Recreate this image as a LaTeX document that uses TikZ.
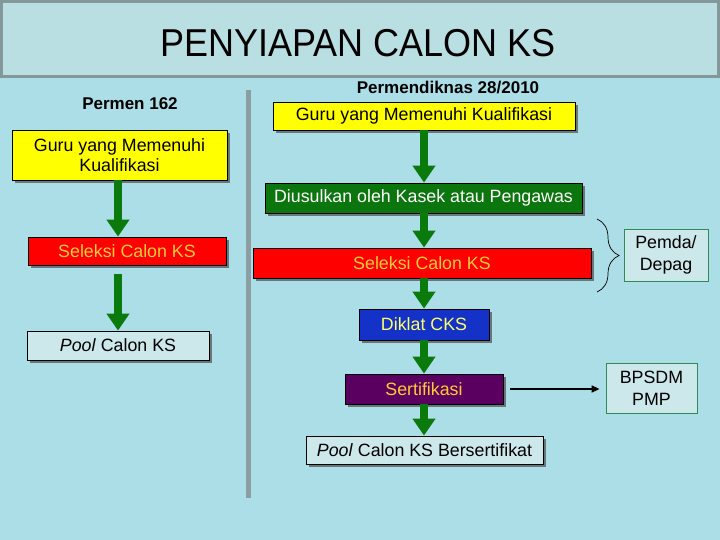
\documentclass[tikz,border=0pt]{standalone}
\usepackage{fontspec}
\setmainfont{Liberation Sans}
\usetikzlibrary{arrows.meta,shadows,decorations.pathreplacing}
\definecolor{bgc}{RGB}{172,222,232}
\definecolor{titlec}{RGB}{186,223,227}
\definecolor{bordc}{RGB}{132,152,156}
\definecolor{yel}{RGB}{255,255,0}
\definecolor{grn}{RGB}{10,122,12}
\definecolor{boxgrn}{RGB}{12,118,14}
\definecolor{redc}{RGB}{255,0,0}
\definecolor{bluec}{RGB}{20,50,200}
\definecolor{purc}{RGB}{90,0,96}
\definecolor{gold}{RGB}{255,204,51}
\definecolor{ltyel}{RGB}{255,255,102}
\definecolor{pale}{RGB}{204,232,234}
\definecolor{edgegrn}{RGB}{46,139,87}
\definecolor{divc}{RGB}{140,158,162}
\tikzset{
  box/.style={draw=black, line width=0.8pt, inner sep=0pt, align=center,
    font=\fontsize{17.8}{20.5}\selectfont,
    drop shadow={shadow xshift=3pt, shadow yshift=-3pt, fill=black!70, opacity=0.7}},
  side/.style={draw=edgegrn, line width=0.8pt, fill=pale, inner sep=0pt, align=center,
    font=\fontsize{17.8}{22}\selectfont},
  garrow/.style={draw=grn, line width=8pt, -{Triangle[width=22pt,length=17pt]}},
  label/.style={font=\bfseries\fontsize{17}{20}\selectfont, inner sep=0pt},
}
\begin{document}
\begin{tikzpicture}[x=1pt,y=-1pt]
\useasboundingbox (0,0) rectangle (720,540);
\fill[bgc] (0,0) rectangle (720,540);
% title bar
\draw[fill=titlec, draw=bordc, line width=3pt] (1.5,1.5) rectangle (718.5,77);
\node (title) at (358,43) {\scalebox{1}[1.08]{\fontsize{36}{40}\selectfont PENYIAPAN CALON KS}};
% divider
\draw[divc, line width=5pt] (248,90) -- (248,498);
% left column
\node[label] (lh) at (130,104) {Permen 162};
\node[box, fill=yel, minimum width=215pt, minimum height=50pt] (ly) at (119.5,155) {Guru yang Memenuhi\\Kualifikasi};
\node[box, fill=redc, text=gold, minimum width=198pt, minimum height=28pt] (lr) at (127,251) {Seleksi Calon KS};
\node[box, fill=pale, minimum width=182pt, minimum height=29pt] (lp) at (118,345.5) {\textit{Pool} Calon KS};
\draw[garrow] (ly.south -| lp.north) -- (lp.north |- lr.north);
\draw[garrow, shorten <=9pt] (lp.north |- lr.south) -- (lp.north);
% right column
\node[label] (rh) at (448,88) {Permendiknas 28/2010};
\node[box, fill=yel, minimum width=302pt, minimum height=28pt] (ry) at (424,116) {Guru yang Memenuhi Kualifikasi};
\node[box, fill=boxgrn, text=white, minimum width=317pt, minimum height=30pt] (rg) at (423.5,198) {Diusulkan oleh Kasek atau Pengawas};
\node[box, fill=redc, text=gold, minimum width=338pt, minimum height=30pt] (rr) at (422,263) {Seleksi Calon KS};
\node[box, fill=bluec, text=ltyel, minimum width=130pt, minimum height=31pt] (rb) at (424,324.5) {Diklat CKS};
\node[box, fill=purc, text=gold, minimum width=158pt, minimum height=30pt] (rp) at (424,389) {Sertifikasi};
\node[box, fill=pale, minimum width=237pt, minimum height=28pt] (rpool) at (424.5,450) {\textit{Pool} Calon KS Bersertifikat};
\draw[garrow] (ry.south) -- (ry.south |- rg.north);
\draw[garrow] (ry.south |- rg.south) -- (ry.south |- rr.north);
\draw[garrow] (ry.south |- rr.south) -- (rb.north);
\draw[garrow] (rb.south) -- (rp.north);
\draw[garrow] (rp.south) -- (rp.south |- rpool.north);
% side boxes
\node[side, minimum width=84pt, minimum height=52pt] (pd) at (666,255) {Pemda/\\Depag};
\node[side, minimum width=91pt, minimum height=50pt] (bp) at (651.5,388) {BPSDM\\PMP};
\coordinate (bt) at (597,219);
\coordinate (bb) at (597,292);
\draw[black, line width=0.7pt, decorate, decoration={brace, amplitude=22pt}] (bt) -- (bb);
\draw[black, line width=1.5pt, -{Triangle[width=7pt,length=8pt]}, shorten <=7pt, shorten >=6pt] (rp.east) -- (rp.east -| bp.west);
\end{tikzpicture}
\end{document}
